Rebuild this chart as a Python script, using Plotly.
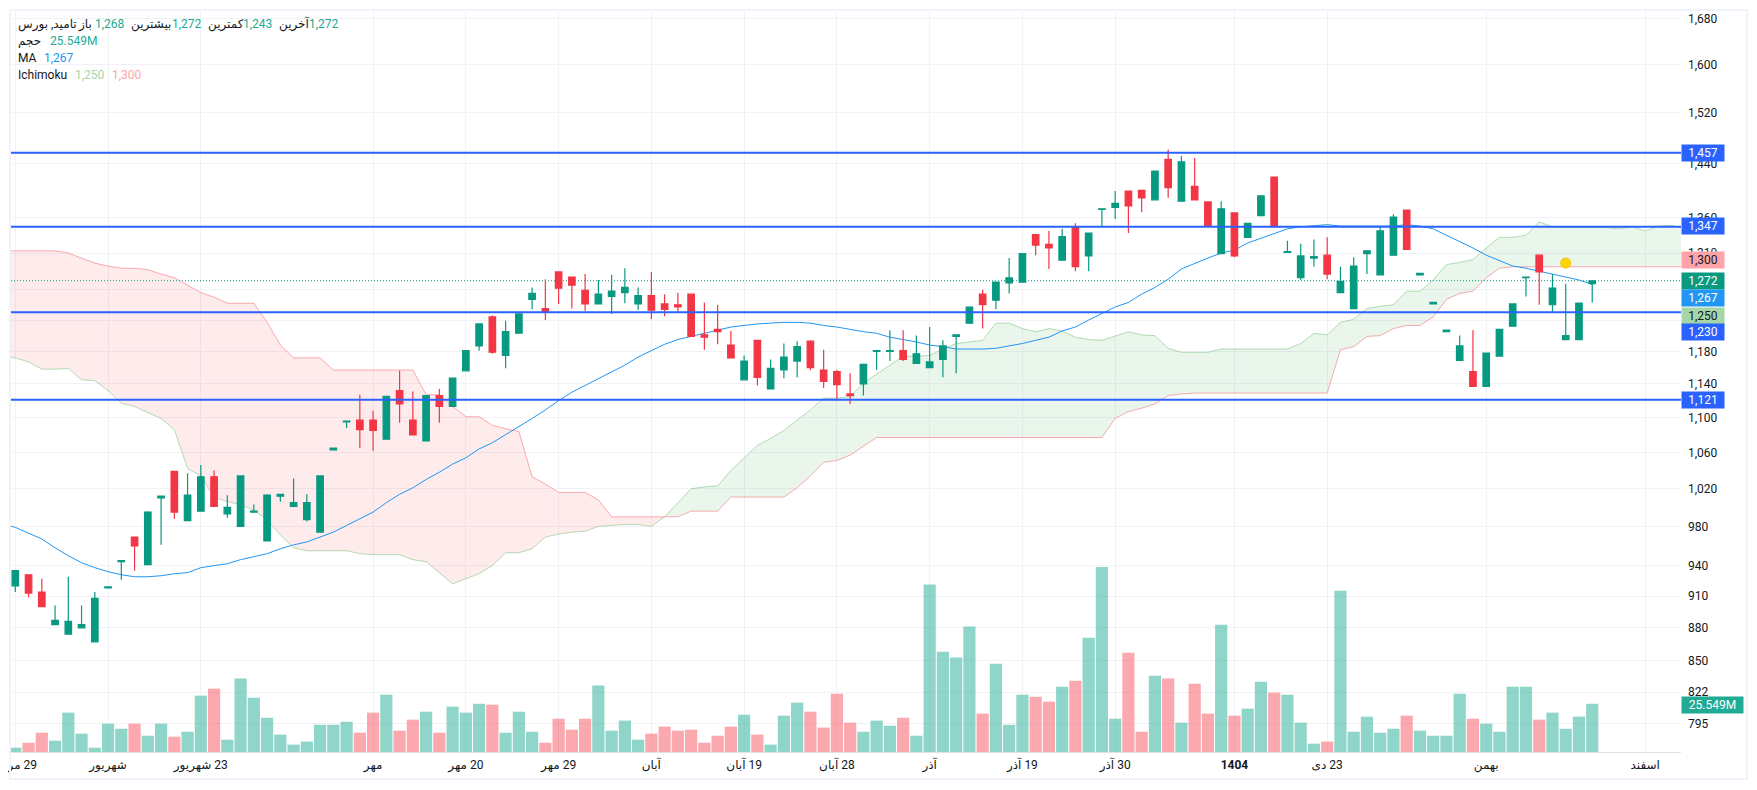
import math
import plotly.graph_objects as go

opens = [
    920, 931, 914, 883, 874, 880, 867, 918, 944, 969,
    941, 1010, 1039, 986, 996, 1033, 993, 980, 995, 965,
    1012, 1001, 987, 974, 1063, 1095, 1097, 1097, 1075, 1132,
    1097, 1073, 1126, 1113, 1156, 1187, 1224, 1175, 1203, 1247,
    1235, 1284, 1277, 1259, 1241, 1251, 1256, 1241, 1252, 1241,
    1240, 1254, 1201, 1208, 1188, 1145, 1194, 1134, 1157, 1168,
    1193, 1157, 1155, 1128, 1140, 1180, 1180, 1181, 1165, 1160,
    1170, 1199, 1216, 1254, 1246, 1269, 1270, 1336, 1322, 1300,
    1347, 1306, 1372, 1375, 1399, 1400, 1386, 1447, 1384, 1406,
    1383, 1309, 1367, 1332, 1363, 1420, 1311, 1276, 1303, 1307,
    1256, 1235, 1309, 1280, 1307, 1371, 1280, 1241, 1205, 1169,
    1155, 1137, 1174, 1212, 1276, 1307, 1240, 1195, 1195, 1268,
]
highs = [
    936, 931, 927, 901, 929, 901, 914, 919, 945, 969,
    996, 1012, 1039, 1037, 1046, 1040, 1013, 1034, 1003, 1014,
    1014, 1031, 1014, 1034, 1065, 1096, 1127, 1108, 1125, 1156,
    1131, 1126, 1134, 1147, 1181, 1215, 1226, 1219, 1228, 1263,
    1274, 1284, 1277, 1281, 1273, 1280, 1289, 1263, 1284, 1254,
    1256, 1254, 1243, 1240, 1206, 1175, 1194, 1170, 1190, 1193,
    1194, 1182, 1157, 1153, 1164, 1181, 1207, 1207, 1200, 1211,
    1194, 1201, 1237, 1260, 1270, 1303, 1309, 1336, 1341, 1344,
    1352, 1338, 1373, 1399, 1399, 1400, 1429, 1462, 1452, 1449,
    1383, 1384, 1367, 1352, 1392, 1420, 1327, 1323, 1329, 1332,
    1291, 1304, 1313, 1348, 1365, 1371, 1282, 1243, 1207, 1200,
    1207, 1178, 1208, 1241, 1277, 1307, 1281, 1268, 1242, 1272,
]
lows = [
    914, 909, 900, 883, 874, 880, 867, 918, 926, 935,
    941, 961, 988, 986, 996, 1001, 989, 980, 994, 965,
    1006, 1000, 985, 974, 1063, 1088, 1065, 1062, 1075, 1094,
    1080, 1073, 1094, 1113, 1156, 1181, 1177, 1159, 1203, 1234,
    1220, 1241, 1235, 1232, 1241, 1228, 1242, 1233, 1221, 1225,
    1230, 1199, 1182, 1189, 1172, 1145, 1138, 1134, 1147, 1148,
    1157, 1135, 1120, 1116, 1126, 1157, 1168, 1168, 1165, 1160,
    1148, 1153, 1215, 1209, 1234, 1255, 1270, 1307, 1288, 1300,
    1285, 1285, 1348, 1358, 1338, 1368, 1386, 1389, 1384, 1386,
    1348, 1309, 1304, 1332, 1363, 1347, 1311, 1273, 1291, 1274,
    1256, 1235, 1281, 1280, 1307, 1315, 1280, 1241, 1205, 1169,
    1137, 1137, 1174, 1212, 1251, 1240, 1230, 1195, 1195, 1243,
]
closes = [
    935, 913, 900, 887, 886, 883, 908, 919, 945, 960,
    995, 1012, 995, 1013, 1033, 1001, 1000, 1034, 996, 1013,
    1014, 1005, 1005, 1034, 1065, 1096, 1086, 1085, 1125, 1116,
    1080, 1126, 1113, 1147, 1181, 1215, 1179, 1205, 1228, 1255,
    1230, 1262, 1266, 1241, 1254, 1258, 1263, 1252, 1233, 1234,
    1237, 1199, 1198, 1205, 1172, 1168, 1148, 1159, 1173, 1186,
    1160, 1143, 1139, 1126, 1164, 1181, 1181, 1170, 1177, 1167,
    1187, 1201, 1237, 1240, 1270, 1276, 1309, 1321, 1317, 1333,
    1291, 1338, 1373, 1381, 1377, 1389, 1429, 1404, 1443, 1386,
    1348, 1373, 1306, 1352, 1392, 1347, 1312, 1306, 1305, 1281,
    1271, 1292, 1313, 1341, 1361, 1315, 1282, 1243, 1207, 1187,
    1137, 1178, 1208, 1241, 1277, 1284, 1262, 1200, 1242, 1272,
]
# volume in millions
volumes = [
    2.3, 4.9, 10.2, 6.0, 20.8, 9.7, 2.3, 15.0, 12.3, 15.0,
    8.6, 15.0, 8.1, 10.7, 29.8, 33.5, 6.5, 38.8, 28.7, 18.1,
    9.2, 3.9, 5.5, 14.4, 14.4, 16.0, 10.2, 20.8, 30.3, 11.3,
    17.1, 21.3, 10.2, 24.0, 20.8, 25.5, 25.0, 10.2, 21.3, 10.7,
    4.9, 17.6, 11.8, 17.6, 35.1, 11.3, 16.6, 6.5, 9.7, 13.4,
    11.3, 11.8, 4.9, 8.6, 13.4, 19.7, 9.2, 3.9, 19.2, 26.1,
    21.3, 12.9, 30.8, 15.5, 10.7, 16.6, 13.9, 18.1, 8.6, 88.5,
    53.0, 49.9, 66.3, 20.3, 46.7, 14.4, 30.3, 29.2, 26.6, 34.5,
    37.7, 60.4, 97.8, 17.6, 52.5, 10.7, 40.3, 38.8, 15.5, 36.1,
    20.3, 67.3, 19.2, 22.9, 37.2, 31.4, 30.3, 15.5, 4.4, 5.5,
    85.3, 10.7, 18.7, 10.2, 12.3, 19.2, 11.3, 8.6, 8.6, 30.8,
    17.6, 15.0, 10.7, 34.5, 34.5, 17.1, 20.8, 12.3, 18.7, 25.5,
]
# starts one bar before the first candle
ma_values = [
    983,
    979, 973, 967, 958, 950, 943, 938, 934, 931, 929,
    929, 930, 932, 933, 938, 940, 942, 946, 949, 952,
    957, 961, 964, 969, 974, 981, 988, 995, 1005, 1014,
    1021, 1030, 1038, 1047, 1054, 1064, 1071, 1080, 1089, 1099,
    1109, 1120, 1130, 1138, 1146, 1155, 1163, 1173, 1181, 1189,
    1195, 1199, 1203, 1207, 1211, 1213, 1215, 1216, 1217, 1217,
    1216, 1213, 1211, 1208, 1205, 1203, 1198, 1195, 1192, 1188,
    1186, 1183, 1183, 1183, 1184, 1187, 1190, 1194, 1198, 1206,
    1211, 1220, 1229, 1237, 1243, 1254, 1263, 1274, 1288, 1296,
    1303, 1310, 1314, 1324, 1331, 1338, 1344, 1347, 1348, 1350,
    1348, 1348, 1347, 1348, 1348, 1350, 1348, 1344, 1335, 1326,
    1317, 1307, 1299, 1292, 1289, 1285, 1280, 1277, 1273, 1267,
]
# ichimoku spans, bar -1 to bar 126
span_a = [
    1173,
    1172, 1167, 1158, 1158, 1159, 1145, 1144, 1132, 1117, 1113,
    1106, 1099, 1086, 1042, 1034, 1011, 1006, 1003, 997, 987,
    971, 958, 955, 955, 955, 955, 952, 951, 951, 951,
    946, 944, 933, 922, 927, 932, 940, 953, 953, 957,
    969, 972, 974, 975, 980, 981, 982, 982, 980, 990,
    1005, 1020, 1022, 1023, 1040, 1054, 1068, 1076, 1085, 1097,
    1109, 1123, 1123, 1125, 1141, 1152, 1163, 1174, 1174, 1175,
    1183, 1190, 1192, 1194, 1216, 1216, 1209, 1205, 1209, 1206,
    1198, 1195, 1194, 1199, 1205, 1201, 1200, 1184, 1179, 1179,
    1179, 1183, 1183, 1183, 1183, 1183, 1183, 1190, 1203, 1201,
    1217, 1221, 1235, 1238, 1240, 1258, 1258, 1273, 1294, 1297,
    1301, 1317, 1332, 1332, 1335, 1354, 1347, 1346, 1346, 1346,
    1346, 1344, 1347, 1341, 1348, 1349, 1344,
]
span_b = [
    1313,
    1313, 1313, 1313, 1313, 1310, 1303, 1296, 1292, 1289, 1289,
    1287, 1281, 1276, 1266, 1256, 1250, 1242, 1242, 1242, 1217,
    1188, 1172, 1172, 1172, 1157, 1157, 1157, 1157, 1157, 1157,
    1157, 1127, 1127, 1113, 1101, 1101, 1091, 1087, 1084, 1033,
    1025, 1016, 1016, 1016, 1008, 990, 990, 990, 990, 990,
    990, 996, 996, 996, 1011, 1011, 1011, 1011, 1011, 1021,
    1034, 1049, 1051, 1057, 1067, 1077, 1077, 1077, 1077, 1077,
    1077, 1077, 1077, 1077, 1077, 1077, 1077, 1077, 1077, 1077,
    1077, 1077, 1077, 1099, 1107, 1111, 1116, 1126, 1128, 1129,
    1129, 1129, 1129, 1129, 1129, 1129, 1129, 1129, 1129, 1129,
    1182, 1186, 1199, 1200, 1209, 1213, 1213, 1224, 1247, 1255,
    1258, 1276, 1289, 1291, 1291, 1291, 1291, 1291, 1291, 1291,
    1291, 1291, 1291, 1291, 1291, 1291, 1291,
]
level_prices = [1457, 1347, 1230, 1121]
last_price = 1272
marker_bar = 117
marker_price = 1296

price_ticks = [1680, 1600, 1520, 1440, 1360, 1310, 1260, 1220, 1180, 1140,
               1100, 1060, 1020, 980, 940, 910, 880, 850, 822, 795]
# these two sit fully behind the price tags
hidden_ticks = [1260, 1220]
time_ticks = [0, 7, 14, 27, 34, 41, 48, 55, 62, 69, 76, 83, 92, 99, 111, 123]
# the RLM keeps the day number on the right of the month
time_labels = ["\u200f29 مرداد", "شهریور", "\u200f23 شهریور", "مهر", "\u200f20 مهر", "\u200f29 مهر",
               "آبان", "\u200f19 آبان", "\u200f28 آبان", "آذر", "\u200f19 آذر", "\u200f30 آذر",
               "<b>1404</b>", "\u200f23 دی", "بهمن", "اسفند"]

# legend pieces: text, left edge px, centre px, colour
legend_items = [
    ("تامید, بورس", 16, 24, "#131722"),
    ("باز", 76, 24, "#131722"),
    ("1,268", 93, 24, "#22ab94"),
    ("بیشترین", 129, 24, "#131722"),
    ("1,272", 170, 24, "#22ab94"),
    ("کمترین", 206, 24, "#131722"),
    ("1,243", 241, 24, "#22ab94"),
    ("آخرین", 277, 24, "#131722"),
    ("1,272", 307, 24, "#22ab94"),
    ("حجم", 16, 41, "#131722"),
    ("25.549M", 48, 41, "#22ab94"),
    ("MA", 16, 58, "#131722"),
    ("1,267", 42, 58, "#2196f3"),
    ("Ichimoku", 16, 75, "#131722"),
    ("1,250", 73, 75, "#a5d6a7"),
    ("1,300", 110, 75, "#ffa3a8"),
]
# right axis tags: text, centre px, background, text colour, width
axis_tags = [
    ("1,457", 153, "#2962ff", "white", 42),
    ("1,347", 226, "#2962ff", "white", 42),
    ("1,300", 260, "#ffa3a8", "#131722", 42),
    ("1,272", 281, "#089981", "white", 42),
    ("1,267", 298, "#2196f3", "white", 42),
    ("1,250", 316, "#a5d6a7", "#131722", 42),
    ("1,230", 332, "#2962ff", "white", 42),
    ("1,121", 400, "#2962ff", "white", 42),
    ("25.549M", 705, "#22ab94", "white", 61),
]

FONT = "Roboto, 'DejaVu Sans', sans-serif"
GRID = "#f1f2f5"
GREEN = "#089981"
RED = "#f23645"
BODY_MARGIN = 8
WIDTH, HEIGHT = 1757 - 2 * BODY_MARGIN, 790 - 2 * BODY_MARGIN
MARGIN = dict(l=3, r=68, t=3, b=30, autoexpand=False)
PLOT_W = WIDTH - MARGIN["l"] - MARGIN["r"]
PLOT_H = HEIGHT - MARGIN["t"] - MARGIN["b"]

def paper_x(px):
    return (px - BODY_MARGIN - MARGIN["l"]) / PLOT_W

def paper_y(px):
    return 1 - (px - BODY_MARGIN - MARGIN["t"]) / PLOT_H

bars = list(range(len(closes)))
price_range = [math.log10(771.3), math.log10(1693.7)]
x_range = [-0.325, 125.7]
future_bars = list(range(-1, 127))
split = 51  # spans cross here

fig = go.Figure()

# cloud and moving average sit on the main axis, under the candles
fig.add_trace(go.Scatter(x=future_bars[:split], y=span_a[:split], mode="lines",
                         line=dict(color="rgba(76,175,80,0.4)", width=1), hoverinfo="skip"))
fig.add_trace(go.Scatter(x=future_bars[:split], y=span_b[:split], mode="lines", fill="tonexty",
                         fillcolor="rgba(242,54,69,0.1)",
                         line=dict(color="rgba(242,54,69,0.4)", width=1), hoverinfo="skip"))
fig.add_trace(go.Scatter(x=future_bars[split - 1:], y=span_b[split - 1:], mode="lines",
                         line=dict(color="rgba(242,54,69,0.4)", width=1), hoverinfo="skip"))
fig.add_trace(go.Scatter(x=future_bars[split - 1:], y=span_a[split - 1:], mode="lines", fill="tonexty",
                         fillcolor="rgba(67,160,71,0.11)",
                         line=dict(color="rgba(76,175,80,0.4)", width=1), hoverinfo="skip"))
fig.add_trace(go.Scatter(x=list(range(-1, 120)), y=ma_values, mode="lines",
                         line=dict(color="#2196f3", width=1), hoverinfo="skip"))
fig.add_trace(go.Scatter(x=x_range, y=[last_price, last_price], mode="lines",
                         line=dict(color=GREEN, width=1, dash="1px,2px"), hoverinfo="skip"))

vol_colors = ["rgba(34,171,148,0.5)" if c >= o else "rgba(247,82,95,0.5)"
              for o, c in zip(opens, closes)]
fig.add_trace(go.Bar(x=bars, y=volumes, marker=dict(color=vol_colors, line_width=0),
                     yaxis="y2", hoverinfo="skip"))

fig.add_trace(go.Candlestick(x=bars, open=opens, high=highs, low=lows, close=closes,
                             increasing=dict(line=dict(color=GREEN, width=1.2), fillcolor=GREEN),
                             decreasing=dict(line=dict(color=RED, width=1.2), fillcolor=RED),
                             whiskerwidth=0, yaxis="y3", hoverinfo="skip"))

for level in level_prices:
    fig.add_trace(go.Scatter(x=x_range, y=[level, level], mode="lines",
                             line=dict(color="#2962ff", width=2), yaxis="y4", hoverinfo="skip"))
fig.add_trace(go.Scatter(x=[marker_bar], y=[marker_price], mode="markers", yaxis="y4", hoverinfo="skip",
                         marker=dict(color="#ffd600", size=10, line=dict(color="#f5c400", width=1))))

for text, left, centre, color in legend_items:
    fig.add_annotation(text=text, xref="paper", yref="paper", x=paper_x(left), y=paper_y(centre),
                       xanchor="left", yanchor="middle", showarrow=False,
                       font=dict(family=FONT, size=12, color=color))

for text, centre, bg, color, tag_w in axis_tags:
    fig.add_annotation(text=text, xref="paper", yref="paper", x=paper_x(1681), y=paper_y(centre),
                       xanchor="left", yanchor="middle", showarrow=False, width=tag_w, height=16,
                       align="center", valign="middle", bgcolor=bg, borderpad=0,
                       font=dict(family=FONT, size=12, color=color))

# panel frame around chart and time axis
fig.add_shape(type="rect", xref="paper", yref="paper", layer="above",
              x0=paper_x(10), x1=paper_x(1747), y0=paper_y(10), y1=paper_y(779),
              line=dict(color="#f0f3fa", width=2))

hidden_price_axis = dict(type="log", range=price_range, overlaying="y", visible=False, showgrid=False)

fig.update_layout(
    width=WIDTH,
    height=HEIGHT,
    margin=MARGIN,
    paper_bgcolor="white",
    plot_bgcolor="white",
    showlegend=False,
    bargap=0.08,
    font=dict(family=FONT, size=12, color="#131722"),
    xaxis=dict(range=x_range, tickmode="array", tickvals=time_ticks, ticktext=time_labels,
               showgrid=True, gridcolor=GRID, gridwidth=1, zeroline=False, ticks="", showline=True,
               linecolor="#e0e3eb", linewidth=1, rangeslider=dict(visible=False),
               ticklabeloverflow="allow", ticklabelstandoff=2,
               tickfont=dict(family=FONT, size=12, color="#131722")),
    yaxis=dict(type="log", range=price_range, side="right", tickmode="array", tickvals=price_ticks,
               ticktext=["" if p in hidden_ticks else f"{p:,}" for p in price_ticks],
               showgrid=True, gridcolor=GRID, gridwidth=1,
               zeroline=False, ticks="", showline=False, ticklabelstandoff=6,
               tickfont=dict(family=FONT, size=12, color="#131722")),
    yaxis2=dict(range=[0, 391.7], overlaying="y", visible=False, showgrid=False),
    yaxis3=hidden_price_axis,
    yaxis4=hidden_price_axis,
)

fig.write_html("out.html")
